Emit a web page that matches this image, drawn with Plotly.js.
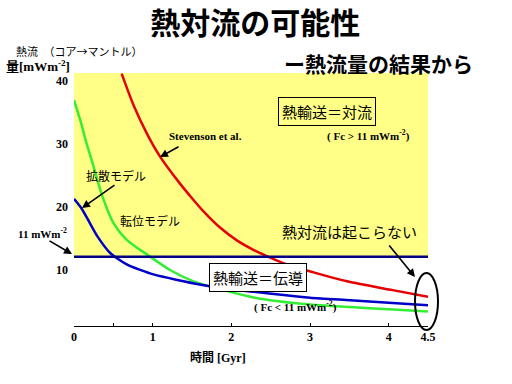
<!DOCTYPE html>
<html>
<head>
<meta charset="utf-8">
<script src="https://cdn.plot.ly/plotly-3.0.1.min.js"></script>
<style>html,body{margin:0;padding:0;background:#fff;}#chart{width:512px;height:384px;}</style>
</head>
<body>
<div id="chart"></div>
<script>
// ---- data ----
var stevensonX = [0.606, 0.76, 0.93, 1.09, 1.33, 1.50, 1.64, 1.86, 2.07, 2.28, 2.45, 2.66, 3.08, 3.47, 4.05, 4.5];
var stevensonY = [40.1, 35.0, 30.5, 27.0, 22.9, 20.3, 18.3, 15.6, 13.6, 12.1, 11.1, 10.0, 8.4, 7.1, 5.7, 4.65];
var diffusionX = [0, 0.1, 0.2, 0.3, 0.46, 0.67, 1.01, 1.6, 2.24, 3.0, 3.51, 4.0, 4.5];
var diffusionY = [20.2, 18.6, 16.4, 14.2, 11.6, 9.8, 8.2, 6.6, 5.5, 4.5, 4.1, 3.7, 3.3];
var dislocationX = [0, 0.08, 0.16, 0.25, 0.35, 0.5, 0.67, 0.97, 1.22, 1.52, 1.9, 2.3, 3.0, 3.51, 4.0, 4.5];
var dislocationY = [35.9, 32.7, 29.0, 25.3, 21.0, 16.4, 13.7, 11.0, 8.9, 7.1, 5.7, 4.5, 3.4, 3.0, 2.65, 2.3];
var threshold = 11;
var xTickVals = [0, 0.5, 1, 2, 3, 4, 4.5];
var xTickText = ['0', '', '1', '2', '3', '4', '4.5'];
var yTickVals = [10, 20, 30, 40];
var yTickText = ['10', '20', '30', '40'];

// ---- layout helpers ----
var L = 74, R = 428, T = 73, B = 326;
function px(x) { return (x - L) / (R - L); }
function py(y) { return (B - y) / (B - T); }
var CJK = 'Noto Sans CJK JP';
var SERIF = 'Liberation Serif, Noto Sans CJK JP';

function txt(text, x, y, size, family, bold, extra) {
  var a = {text: text, xref: 'paper', yref: 'paper', x: px(x), y: py(y),
    xanchor: 'center', yanchor: 'middle', showarrow: false,
    font: {family: family, size: size, color: 'black', weight: bold ? 700 : 400}};
  for (var k in (extra || {})) a[k] = extra[k];
  return a;
}
function arrow(tx, ty, sx, sy) {
  return {text: '', xref: 'paper', yref: 'paper', x: px(tx), y: py(ty),
    ax: sx - tx, ay: sy - ty, axref: 'pixel', ayref: 'pixel',
    showarrow: true, arrowhead: 2, arrowsize: 1, arrowwidth: 1.6, arrowcolor: 'black'};
}

var traces = [
  {x: stevensonX, y: stevensonY, mode: 'lines', line: {color: '#E60000', width: 2.5, shape: 'spline', smoothing: 0.8}, hoverinfo: 'skip'},
  {x: dislocationX, y: dislocationY, mode: 'lines', line: {color: '#33EE33', width: 2.5, shape: 'spline', smoothing: 0.7}, hoverinfo: 'skip'},
  {x: diffusionX, y: diffusionY, mode: 'lines', line: {color: '#0000C8', width: 2.5, shape: 'spline', smoothing: 0.6}, hoverinfo: 'skip'}
];

var layout = {
  width: 512, height: 384,
  margin: {l: L, r: 512 - R, t: T, b: 384 - B, pad: 0},
  paper_bgcolor: 'white', plot_bgcolor: 'white',
  showlegend: false,
  font: {family: CJK, color: 'black'},
  title: {text: '熱対流の可能性', x: 262 / 512, xanchor: 'center', xref: 'paper',
    y: 1 - 23 / 384, yanchor: 'middle', yref: 'container',
    font: {family: CJK, size: 30, weight: 700, color: 'black'}},
  xaxis: {range: [0, 4.5], showgrid: false, zeroline: false, showline: true, linecolor: 'black', linewidth: 1,
    ticks: 'inside', ticklen: 3, tickcolor: 'black', tickvals: xTickVals, ticktext: xTickText,
    tickfont: {family: SERIF, size: 12, weight: 700, color: 'black'}, fixedrange: true},
  yaxis: {range: [0, 40.2], showgrid: false, zeroline: false, showline: false, ticks: '',
    tickvals: yTickVals, ticktext: yTickText, ticklabelstandoff: 5, ticklabelposition: 'outside bottom', ticklabelshift: -2,
    tickfont: {family: SERIF, size: 12, weight: 700, color: 'black'}, fixedrange: true},
  shapes: [
    {type: 'rect', xref: 'paper', yref: 'y', x0: 0, x1: 1, y0: threshold, y1: 40.2, fillcolor: '#FFFF88', line: {width: 0}, layer: 'below'},
    {type: 'line', xref: 'paper', yref: 'y', x0: 0, x1: 1, y0: threshold, y1: threshold, line: {color: '#000080', width: 2.5}},
    {type: 'circle', xref: 'paper', yref: 'paper', x0: px(415), x1: px(438), y0: py(330), y1: py(273), line: {color: 'black', width: 2}}
  ],
  annotations: [
    txt('ー熱流量の結果から', 378, 63, 21, CJK, true),
    txt('熱流　（コア→マントル）', 79, 51, 11, CJK, false),
    txt('量[mWm<sup>-2</sup>]', 4, 66, 13, SERIF, true, {xanchor: 'left'}),
    txt('Stevenson et al.', 205, 136, 11, SERIF, true),
    txt('拡散モデル', 116, 175, 12, CJK, false),
    txt('転位モデル', 150, 220, 12, CJK, false),
    txt('11 mWm<sup>-2</sup>', 42, 233, 11, SERIF, true),
    txt('熱輸送＝対流', 327, 111, 15, CJK, false, {bordercolor: 'black', borderwidth: 1, borderpad: 3}),
    txt('( Fc > 11 mWm<sup>-2</sup>)', 368, 135, 11, SERIF, true),
    txt('熱対流は起こらない', 349, 232, 15, CJK, false),
    txt('熱輸送＝伝導', 258, 277, 15, CJK, false, {bordercolor: 'black', borderwidth: 1, borderpad: 3, bgcolor: 'white'}),
    txt('( Fc < 11 mWm<sup>-2</sup>)', 295, 306, 11, SERIF, true),
    txt('時間 [Gyr]', 218, 357, 12, SERIF, true),
    arrow(160, 157, 180, 146),
    arrow(82, 208, 116, 184),
    arrow(72, 254, 48, 240),
    arrow(415, 277, 388, 244)
  ]
};

Plotly.newPlot('chart', traces, layout, {staticPlot: true, displayModeBar: false});
</script>
</body>
</html>
